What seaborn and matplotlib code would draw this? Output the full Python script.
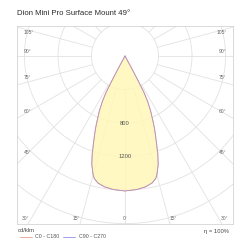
import numpy as np
import pandas as pd
import matplotlib
matplotlib.use("Agg")
import matplotlib.pyplot as plt
import seaborn as sns

# photometric data
gamma = [0, 5, 9, 12, 14, 15, 17, 18.5, 20.5, 22, 23, 25, 26.5, 27.5, 28, 28.5, 29]
cd_c0 = [1611, 1600, 1580, 1550, 1510, 1470, 1355, 1235, 1055, 945, 865, 725, 605, 490, 340, 160, 0]
cd_c90 = [1611, 1600, 1580, 1550, 1510, 1470, 1355, 1235, 1055, 945, 865, 725, 605, 490, 340, 160, 0]

rings = [400, 800, 1200, 1600, 2000, 2400]
ring_labels = {800: "800", 1200: "1200"}
spokes = np.arange(0, 360, 15)

title = "Dion Mini Pro Surface Mount 49°"
unit = "cd/klm"
eta = "η = 100%"

sns.set_theme(style="white")
plt.rcParams['font.family'] = ['Liberation Sans', 'DejaVu Sans']

def to_xy(g, i):
    g = np.radians(np.asarray(g, float))
    i = np.asarray(i, float)
    return i * np.sin(g), -i * np.cos(g)

def mirror(g, i):
    g = np.asarray(g, float)
    i = np.asarray(i, float)
    return np.concatenate([-g[::-1], g[1:]]), np.concatenate([i[::-1], i[1:]])

fig = plt.figure(figsize=(2.5, 2.5), dpi=100)
ax = fig.add_axes([0.068, 0.104, 0.864, 0.792])
ax.set_xlim(-1289, 1289)
ax.set_ylim(-2005, 358)
ax.set_aspect('equal')
ax.set_xticks([])
ax.set_yticks([])
for s in ax.spines.values():
    s.set_color('#d4d4d4')
    s.set_linewidth(0.6)

grid = '#e2e2e2'
t = np.linspace(0, 2 * np.pi, 400)
for r in rings:
    ax.plot(r * np.cos(t), r * np.sin(t), color=grid, lw=0.6, zorder=1)
for a in spokes:
    x0, y0 = to_xy(a, rings[0])
    x1, y1 = to_xy(a, 4000)
    ax.plot([x0, x1], [y0, y1], color=grid, lw=0.6, zorder=1)

g0, i0 = mirror(gamma, cd_c0)
g90, i90 = mirror(gamma, cd_c90)
x0, y0 = to_xy(g0, i0)
x90, y90 = to_xy(g90, i90)
ax.fill(x0, y0, color='#fff7b8', alpha=0.85, zorder=2, lw=0)
df0 = pd.DataFrame({'x': x0, 'y': y0})
df90 = pd.DataFrame({'x': x90, 'y': y90})
sns.lineplot(data=df0, x='x', y='y', sort=False, estimator=None, color='#e89a8a', lw=0.7, ax=ax, zorder=3)
sns.lineplot(data=df90, x='x', y='y', sort=False, estimator=None, color='#8f8fe8', lw=0.5, alpha=0.7, ax=ax, zorder=4)
ax.set_xlabel('')
ax.set_ylabel('')

for r, lab in ring_labels.items():
    ax.text(0, -r, lab, ha='center', va='center', fontsize=4.2, color='#555555', zorder=5)

# angle labels along the frame
lab_kw = dict(fontsize=3.6, color='#666666', va='center')
side = [(105, 0.965), (90, 0.873), (75, 0.742), (60, 0.566), (45, 0.359)]
for a, yf in side:
    ax.text(0.03, yf, f"{a}°", transform=ax.transAxes, ha='left', **lab_kw)
    ax.text(0.97, yf, f"{a}°", transform=ax.transAxes, ha='right', **lab_kw)
bottom = [(30, 0.04), (15, 0.275), (0, 0.5)]
for a, xf in bottom:
    ax.text(xf, 0.03, f"{a}°", transform=ax.transAxes, ha='center', **lab_kw)
    if a:
        ax.text(1 - xf, 0.03, f"{a}°", transform=ax.transAxes, ha='center', **lab_kw)

fig.text(0.068, 0.945, title, fontsize=5.6, color='#2a2a2a', ha='left', va='center')
fig.text(0.072, 0.076, unit, fontsize=4.2, color='#444444', ha='left', va='center')
fig.text(0.915, 0.076, eta, fontsize=4.2, color='#444444', ha='right', va='center')
fig.lines.append(plt.Line2D([0.08, 0.128], [0.053, 0.053], transform=fig.transFigure, color='#e89a8a', lw=0.6))
fig.text(0.14, 0.053, "C0 - C180", fontsize=3.8, color='#555555', ha='left', va='center')
fig.lines.append(plt.Line2D([0.25, 0.30], [0.053, 0.053], transform=fig.transFigure, color='#8f8fe8', lw=0.6))
fig.text(0.316, 0.053, "C90 - C270", fontsize=3.8, color='#555555', ha='left', va='center')

fig.savefig('out.png', dpi=100)
